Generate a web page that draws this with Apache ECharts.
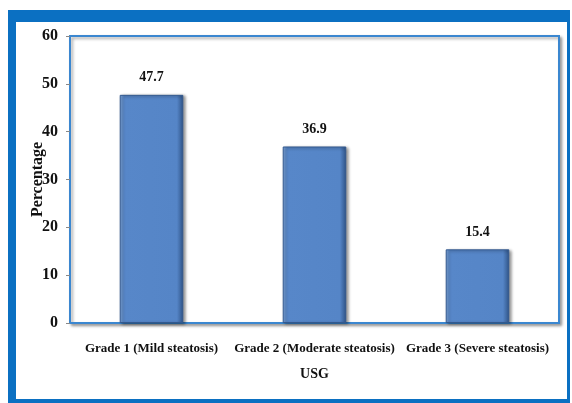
<!DOCTYPE html>
<html>
<head>
<meta charset="utf-8">
<script src="https://cdn.jsdelivr.net/npm/echarts@6/dist/echarts.min.js"></script>
<style>
  html, body { margin: 0; padding: 0; background: #fff; }
  #chart { width: 572px; height: 403px; }
</style>
</head>
<body>
<div id="chart"></div>
<script>
// data
const categories = ['Grade 1 (Mild steatosis)', 'Grade 2 (Moderate steatosis)', 'Grade 3 (Severe steatosis)'];
const percentages = [47.7, 36.9, 15.4];
const yTicks = [0, 10, 20, 30, 40, 50, 60];

const serif = '"Liberation Serif", "DejaVu Serif", serif';
const frameBlue = '#0B70C2';

var myChart = echarts.init(document.getElementById('chart'));

option = {
  animation: false,
  backgroundColor: '#fff',
  // outer blue frame
  graphic: [
    { type: 'rect', shape: { x: 8, y: 10, width: 562, height: 12, r: [3, 0, 0, 0] }, style: { fill: frameBlue } },
    { type: 'rect', shape: { x: 8, y: 10, width: 8, height: 393 }, style: { fill: frameBlue } },
    { type: 'rect', shape: { x: 8, y: 399, width: 562, height: 4 }, style: { fill: frameBlue } },
    { type: 'rect', shape: { x: 567, y: 10, width: 3, height: 393 }, style: { fill: frameBlue } }
  ],
  grid: {
    left: 70, top: 36, right: 13, bottom: 80,
    show: true,
    borderColor: '#3B87D0',
    borderWidth: 2,
    backgroundColor: '#fff',
    shadowColor: 'rgba(0,0,0,0.35)',
    shadowBlur: 3,
    shadowOffsetX: 2,
    shadowOffsetY: 2
  },
  xAxis: {
    type: 'category',
    data: categories,
    name: 'USG',
    nameLocation: 'middle',
    nameGap: 44,
    nameTextStyle: { fontFamily: serif, fontWeight: 'bold', fontSize: 14, color: '#111' },
    axisLine: { show: false },
    axisTick: { show: false },
    axisLabel: { fontFamily: serif, fontWeight: 'bold', fontSize: 13, color: '#111', margin: 19, interval: 0 }
  },
  yAxis: {
    type: 'value',
    min: yTicks[0],
    max: yTicks[yTicks.length - 1],
    interval: 10,
    name: 'Percentage',
    nameLocation: 'middle',
    nameGap: 24,
    nameMoveOverlap: false,
    nameTextStyle: { fontFamily: serif, fontWeight: 'bold', fontSize: 16, color: '#111' },
    axisLine: { show: false },
    axisTick: { show: true, length: 4, lineStyle: { color: '#888' } },
    splitLine: { show: false },
    axisLabel: { fontFamily: serif, fontWeight: 'bold', fontSize: 16, color: '#111', margin: 12 }
  },
  series: [{
    type: 'bar',
    data: percentages,
    barWidth: '39%',
    itemStyle: {
      color: new echarts.graphic.LinearGradient(0, 0, 1, 0, [
        { offset: 0, color: '#7FA8DE' },
        { offset: 0.07, color: '#5787C9' },
        { offset: 0.9, color: '#5585C7' },
        { offset: 1, color: '#2F5386' }
      ]),
      borderColor: '#33598E',
      borderWidth: 1,
      shadowColor: 'rgba(0,0,0,0.4)',
      shadowBlur: 3,
      shadowOffsetX: 2,
      shadowOffsetY: 1
    },
    label: {
      show: true,
      position: 'top',
      distance: 10,
      fontFamily: serif,
      fontWeight: 'bold',
      fontSize: 14,
      color: '#111'
    }
  }]
};

myChart.setOption(option);
</script>
</body>
</html>
